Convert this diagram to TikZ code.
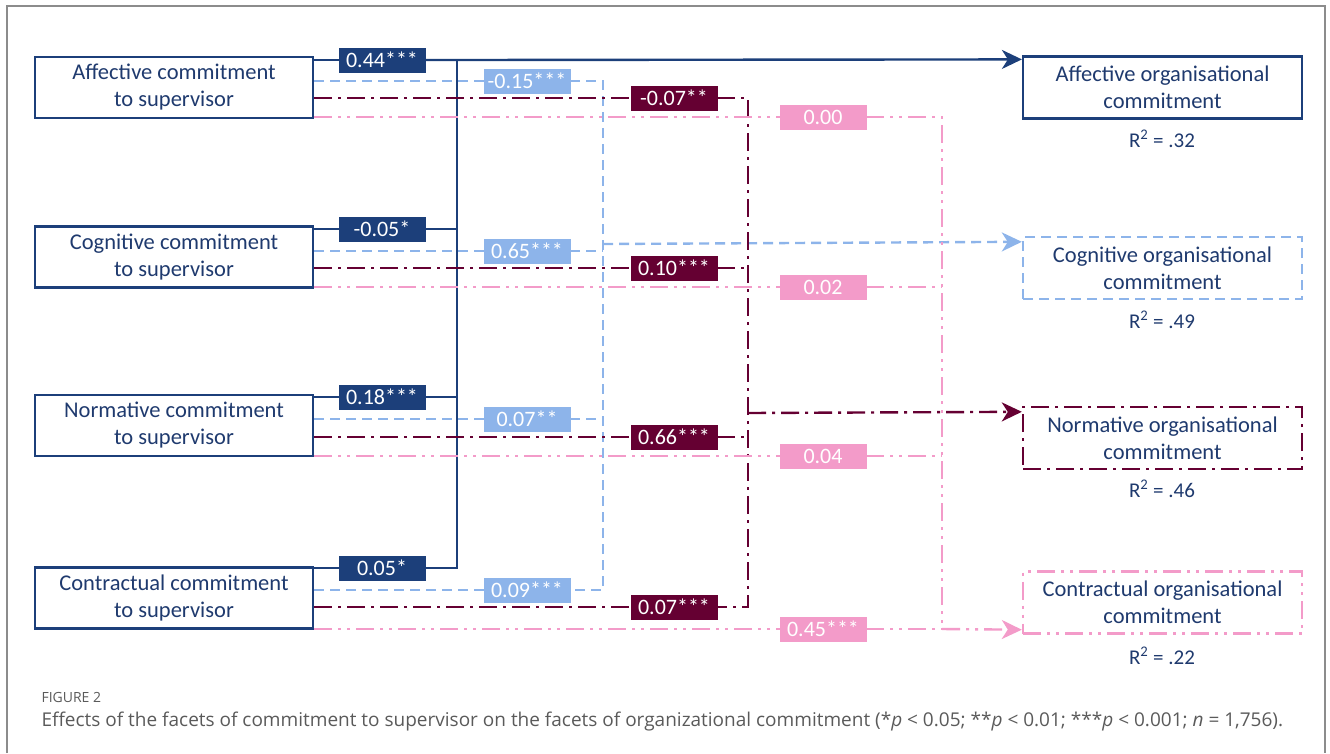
\documentclass[tikz,border=0pt]{standalone}
\usepackage{fontspec}
\setmainfont{Carlito}
\newfontfamily\capfont{Open Sans}
\usetikzlibrary{arrows.meta}
\definecolor{navy}{HTML}{1C3F7A}
\definecolor{skyb}{HTML}{8DB4EA}
\definecolor{plum}{HTML}{650032}
\definecolor{rose}{HTML}{F39BC9}
\definecolor{inkb}{HTML}{1F3A6E}
\definecolor{framegray}{HTML}{8C8C8C}
\definecolor{capgray}{HTML}{5A5A5A}
\tikzset{
  supbox/.style={draw=navy,line width=2.2pt,minimum width=278pt,minimum height=61pt,inner sep=0pt,
    align=center,text=inkb,font=\fontsize{22.5}{27}\selectfont},
  orgbox/.style={supbox,minimum width=279pt,minimum height=62pt},
  rsq/.style={text=inkb,font=\fontsize{21}{24}\selectfont},
  coef/.style={fill=#1,draw=#1,text=white,minimum width=86pt,minimum height=24pt,inner sep=0pt,
    font=\fontsize{22}{22}\selectfont},
  affline/.style={draw=navy,line width=2.4pt},
  cogline/.style={draw=skyb,line width=2.4pt,dash pattern=on 10pt off 6pt},
  normline/.style={draw=plum,line width=2.4pt,dash pattern=on 18pt off 6pt on 3pt off 6pt},
  contline/.style={draw=rose,line width=2.4pt,dash pattern=on 18pt off 6pt on 3pt off 6pt on 3pt off 6pt},
  headed/.style={-{Stealth[length=20pt,width=19pt,inset=6pt]}}
}
\begin{document}
\begin{tikzpicture}[x=1pt,y=-1pt]
		\useasboundingbox (0,0) rectangle (1330,753);
		%frame
		\draw[framegray,line width=2pt] (7,753) -- (7,6) -- (1325,6) -- (1325,753);
		%supervisor facets
		\node[supbox] (affsup) at (174,87.5) {Affective commitment\\to supervisor};
		\node[supbox] (cogsup) at (174,257) {Cognitive commitment\\to supervisor};
		\node[supbox] (normsup) at (174,425.5) {Normative commitment\\to supervisor};
		\node[supbox] (contsup) at (174,598) {Contractual commitment\\to supervisor};
		%organisational facets
		\node[orgbox] (afforg) at (1162.5,87.5) {Affective organisational\\commitment};
		\node[orgbox,cogline] (cogorg) at (1162.5,268) {Cognitive organisational\\commitment};
		\node[orgbox,normline] (normorg) at (1162.5,438) {Normative organisational\\commitment};
		\node[orgbox,contline] (contorg) at (1162.5,602.5) {Contractual organisational\\commitment};
		\node[rsq] (raff) at (1162,139) {R\textsuperscript{2} = .32};
		\node[rsq] (rcog) at (1162,320) {R\textsuperscript{2} = .49};
		\node[rsq] (rnorm) at (1162,489) {R\textsuperscript{2} = .46};
		\node[rsq] (rcont) at (1162,656) {R\textsuperscript{2} = .22};
		%coefficients
		\node[coef=navy] (aA) at (382,60) {0.44***};
		\node[coef=navy] (aC) at (382,229) {-0.05*};
		\node[coef=navy] (aN) at (382,397) {0.18***};
		\node[coef=navy] (aK) at (382,568) {0.05*};
		\node[coef=skyb] (bA) at (527,81) {-0.15***};
		\node[coef=skyb] (bC) at (527,251) {0.65***};
		\node[coef=skyb] (bN) at (527,419) {0.07**};
		\node[coef=skyb] (bK) at (527,590) {0.09***};
		\node[coef=plum] (mA) at (674,98) {-0.07**};
		\node[coef=plum] (mC) at (674,268) {0.10***};
		\node[coef=plum] (mN) at (674,437) {0.66***};
		\node[coef=plum] (mK) at (674,607) {0.07***};
		\node[coef=rose] (pA) at (823,117) {0.00};
		\node[coef=rose] (pC) at (823,287) {0.02};
		\node[coef=rose] (pN) at (823,456) {0.04};
		\node[coef=rose] (pK) at (823,629) {0.45***};
		%junctions
		\coordinate (sTop) at (457,60);
		\coordinate (sBot) at (457,568);
		\coordinate (bTop) at (603,81);
		\coordinate (bOut) at (603,244);
		\coordinate (bBot) at (603,590);
		\coordinate (mTop) at (748,98);
		\coordinate (mOut) at (748,413);
		\coordinate (mBot) at (748,607);
		\coordinate (pTop) at (942,117);
		\coordinate (pBot) at (942,629);
		%affective paths
		\draw[affline] (affsup.east |- aA) -- (aA);
		\draw[affline,headed] (aA) -- (sTop) -- ([yshift=-4pt]afforg.north west);
		\draw[affline] (cogsup.east |- aC) -- (aC) -- (aC -| sTop);
		\draw[affline] (normsup.east |- aN) -- (aN) -- (aN -| sTop);
		\draw[affline] (contsup.east |- aK) -- (aK) -- (sBot) -- (sTop);
		%cognitive paths
		\draw[cogline] (affsup.east |- bA) -- (bA);
		\draw[cogline] (bA) -- (bTop) -- (bBot) -- (bK);
		\draw[cogline] (cogsup.east |- bC) -- (bC) -- (bC -| bTop);
		\draw[cogline] (normsup.east |- bN) -- (bN) -- (bN -| bTop);
		\draw[cogline] (contsup.east |- bK) -- (bK);
		\draw[cogline,headed] (bOut) -- ([yshift=-6pt]cogorg.north west);
		%normative paths
		\draw[normline] (affsup.east |- mA) -- (mA);
		\draw[normline] (mA) -- (mTop) -- (mBot) -- (mK);
		\draw[normline] (cogsup.east |- mC) -- (mC) -- (mC -| mTop);
		\draw[normline] (normsup.east |- mN) -- (mN) -- (mN -| mTop);
		\draw[normline] (contsup.east |- mK) -- (mK);
		\draw[normline,headed] (mOut) -- ([yshift=-6pt]normorg.north west);
		%contractual paths
		\draw[contline] (affsup.east |- pA) -- (pA);
		\draw[contline] (pA) -- (pTop) -- (pBot);
		\draw[contline] (cogsup.east |- pC) -- (pC) -- (pC -| pTop);
		\draw[contline] (normsup.east |- pN) -- (pN) -- (pN -| pTop);
		\draw[contline] (contsup.east |- pK) -- (pK);
		\draw[contline] (pK) -- (pBot);
		\draw[contline,headed] (pBot) -- ([yshift=5pt]contorg.south west);
		%caption
		\node[anchor=west,text=capgray,font=\capfont\fontsize{14}{16}\selectfont] (fig) at (38,697) {FIGURE 2};
		\node[anchor=west,text=capgray,font=\capfont\fontsize{19}{22}\selectfont] (cap) at (38,722) {Effects of the facets of commitment to supervisor on the facets of organizational commitment (*\textit{p} < 0.05; **\textit{p} < 0.01; ***\textit{p} < 0.001; \textit{n} = 1,756).};
\end{tikzpicture}
\end{document}
